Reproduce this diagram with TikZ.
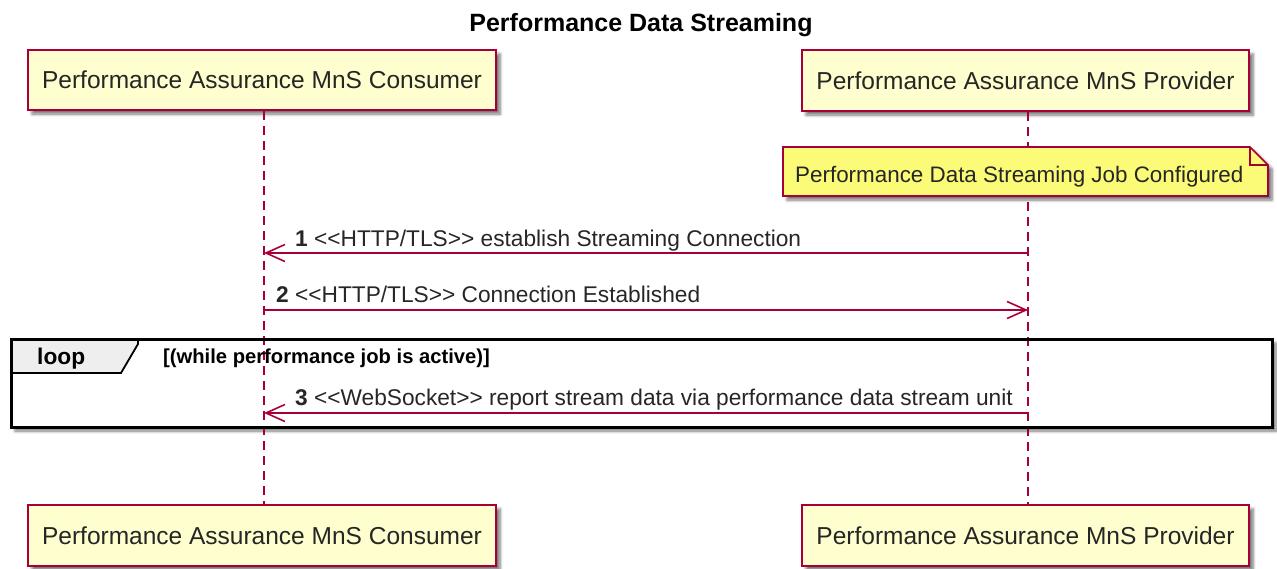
\documentclass[tikz,border=0pt]{standalone}
\usepackage{fontspec}
\setmainfont{Liberation Sans}
\usetikzlibrary{arrows.meta,shadows.blur}
\definecolor{umlred}{HTML}{A80036}
\definecolor{partfill}{HTML}{FEFECE}
\definecolor{notefill}{HTML}{FBFB77}
\definecolor{tabfill}{HTML}{EEEEEE}
% stereotype in doubled angle brackets, kept apart so no guillemet ligature forms
\newcommand\stereotag[1]{<{}<#1>{}>}
\tikzset{
  softshadow/.style={blur shadow={shadow xshift=4pt, shadow yshift=-4pt,
      shadow blur radius=3pt, shadow blur steps=6, shadow opacity=55}},
  actorbox/.style={draw=umlred, fill=partfill, line width=2.2pt, inner sep=0pt,
      font=\fontsize{24.5}{29}\selectfont, text=black!85, softshadow},
  lifeline/.style={draw=umlred, line width=1.6pt, dash pattern=on 9pt off 6pt},
  msg/.style={draw=umlred, line width=1.6pt,
      -{Straight Barb[length=19pt,width=17pt]}},
  msgtext/.style={anchor=base west, inner sep=0pt, text=black!85,
      font=\fontsize{22.7}{27}\selectfont},
  notetext/.style={anchor=base west, inner sep=0pt, text=black!85,
      font=\fontsize{22.4}{27}\selectfont},
  titletext/.style={anchor=base, inner sep=0pt, font=\fontsize{25}{30}\selectfont\bfseries},
  looptext/.style={anchor=base west, inner sep=0pt, font=\fontsize{22.7}{27}\selectfont\bfseries},
  condtext/.style={anchor=base west, inner sep=0pt, font=\fontsize{20.2}{24}\selectfont\bfseries},
}
\begin{document}
\begin{tikzpicture}[x=1pt, y=-1pt]
  \useasboundingbox (0,0) rectangle (1277,568);

  % title
  \node[titletext] (title) at (641,31) {Performance Data Streaming};

  % participants, top and bottom
  \node[actorbox, minimum width=468pt, minimum height=60pt] (ctop) at (262,80) {Performance Assurance MnS Consumer};
  \node[actorbox, minimum width=447pt, minimum height=61pt] (ptop) at (1025.5,80.5) {Performance Assurance MnS Provider};
  \node[actorbox, minimum width=468pt, minimum height=61pt] (cbot) at (262,535.5) {Performance Assurance MnS Consumer};
  \node[actorbox, minimum width=447pt, minimum height=61pt] (pbot) at (1025.5,535.5) {Performance Assurance MnS Provider};

  % lifeline axes
  \coordinate (cl) at (264,0);
  \coordinate (pl) at (1028,0);

  % loop frame background
  \fill[white, softshadow] (11,339) rectangle (1272,427);

  % lifelines
  \draw[lifeline] (ctop.south -| cl) -- (cbot.north -| cl);
  \draw[lifeline] (ptop.south -| pl) -- (pbot.north -| pl);

  % note on the provider lifeline
  \fill[notefill, softshadow] (783,147) -- (1250,147) -- (1268,165) -- (1268,196) -- (783,196) -- cycle;
  \draw[umlred, line width=1.6pt, line join=miter] (783,147) -- (1250,147) -- (1268,165) -- (1268,196) -- (783,196) -- cycle;
  \draw[umlred, line width=1.6pt] (1250,147) -- (1250,165) -- (1268,165);
  \node[notetext] (note) at (795,182) {Performance Data Streaming Job Configured};

  % message anchor points on the lifelines
  \coordinate (c1) at (cl |- 0,253);
  \coordinate (p1) at (pl |- 0,253);
  \coordinate (c2) at (cl |- 0,310);
  \coordinate (p2) at (pl |- 0,310);
  \coordinate (c3) at (cl |- 0,413);
  \coordinate (p3) at (pl |- 0,413);

  % messages
  \draw[msg] (p1) -- (c1);
  \node[msgtext] (m1) at (295,246) {\textbf{1} \stereotag{HTTP/TLS} establish Streaming Connection};
  \draw[msg] (c2) -- (p2);
  \node[msgtext] (m2) at (276,302) {\textbf{2} \stereotag{HTTP/TLS} Connection Established};

  % loop frame
  \draw[black, line width=3pt] (11,339) rectangle (1272,427);
  \draw[black, line width=1.8pt, fill=tabfill, line join=miter] (11,339) -- (138,339) -- (138,344) -- (121,373) -- (11,373) -- cycle;
  \draw[black, line width=3pt] (11,339) -- (138,339);
  \draw[black, line width=3pt] (11,339) -- (11,373);
  \node[looptext] (loop) at (37,364) {loop};
  \node[condtext] (cond) at (163,363) {[(while performance job is active)]};

  \draw[msg] (p3) -- (c3);
  \node[msgtext] (m3) at (295,405) {\textbf{3} \stereotag{WebSocket} report stream data via performance data stream unit};
\end{tikzpicture}
\end{document}
